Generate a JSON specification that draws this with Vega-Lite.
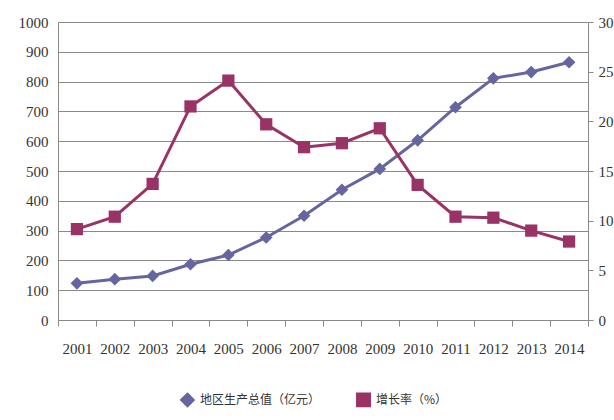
{
  "$schema": "https://vega.github.io/schema/vega-lite/v6.json",
  "autosize": {"type": "none"},
  "width": 530,
  "height": 298,
  "padding": {"left": 58, "top": 22, "right": 26, "bottom": 100},
  "background": "white",
  "config": {
    "view": {"stroke": null},
    "axis": {"labelFont": "Liberation Serif", "labelFontSize": 15, "labelColor": "#333333", "domainColor": "#8a8a8a", "tickColor": "#8a8a8a", "title": null},
    "legend": {"labelFont": "Noto Sans CJK SC", "labelFontSize": 12, "labelColor": "#333333"}
  },
  "data": {"values": [
    {"year": "2001", "gdp": 123, "rate": 9.15},
    {"year": "2002", "gdp": 137, "rate": 10.4},
    {"year": "2003", "gdp": 148, "rate": 13.7},
    {"year": "2004", "gdp": 187, "rate": 21.5},
    {"year": "2005", "gdp": 218, "rate": 24.1},
    {"year": "2006", "gdp": 277, "rate": 19.7},
    {"year": "2007", "gdp": 350, "rate": 17.4},
    {"year": "2008", "gdp": 437, "rate": 17.8},
    {"year": "2009", "gdp": 507, "rate": 19.3},
    {"year": "2010", "gdp": 603, "rate": 13.6},
    {"year": "2011", "gdp": 714, "rate": 10.4},
    {"year": "2012", "gdp": 811, "rate": 10.3},
    {"year": "2013", "gdp": 832, "rate": 9.0},
    {"year": "2014", "gdp": 865, "rate": 7.9}
  ]},
  "encoding": {
    "x": {"field": "year", "type": "ordinal", "scale": {"paddingInner": 0, "paddingOuter": 0},
      "axis": {"tickBand": "extent", "labelAngle": 0, "tickSize": 6, "labelPadding": 15, "domainColor": "#8a8a8a"}}
  },
  "layer": [
    {
      "encoding": {
        "y": {"field": "gdp", "type": "quantitative", "scale": {"domain": [0, 1000], "nice": false},
          "axis": {"orient": "left", "values": [0,100,200,300,400,500,600,700,800,900,1000], "format": "d", "grid": true, "gridColor": "#8a8a8a", "gridWidth": 1, "ticks": false, "labelPadding": 10}},
        "color": {"datum": "地区生产总值（亿元）", "type": "nominal",
          "scale": {"domain": ["地区生产总值（亿元）", "增长率（%）"], "range": ["#65659f", "#993366"]},
          "legend": {"orient": "none", "legendX": 122, "legendY": 370, "direction": "horizontal", "title": null, "symbolSize": 180, "columnPadding": 32, "labelOffset": 5}},
        "shape": {"datum": "地区生产总值（亿元）", "type": "nominal",
          "scale": {"domain": ["地区生产总值（亿元）", "增长率（%）"], "range": ["diamond", "square"]},
          "legend": {"orient": "none", "legendX": 122, "legendY": 370, "direction": "horizontal", "title": null, "symbolSize": 180, "columnPadding": 32, "labelOffset": 5}}
      },
      "layer": [
        {"mark": {"type": "line", "strokeWidth": 3}},
        {"mark": {"type": "point", "filled": true, "size": 160, "opacity": 1}}
      ]
    },
    {
      "encoding": {
        "y": {"field": "rate", "type": "quantitative", "scale": {"domain": [0, 30], "nice": false},
          "axis": {"orient": "right", "values": [0,5,10,15,20,25,30], "grid": false, "tickSize": 5, "labelPadding": 5}},
        "color": {"datum": "增长率（%）", "type": "nominal"},
        "shape": {"datum": "增长率（%）", "type": "nominal"}
      },
      "layer": [
        {"mark": {"type": "line", "strokeWidth": 3}},
        {"mark": {"type": "point", "filled": true, "size": 150, "opacity": 1}}
      ]
    }
  ],
  "resolve": {"scale": {"y": "independent"}}
}
